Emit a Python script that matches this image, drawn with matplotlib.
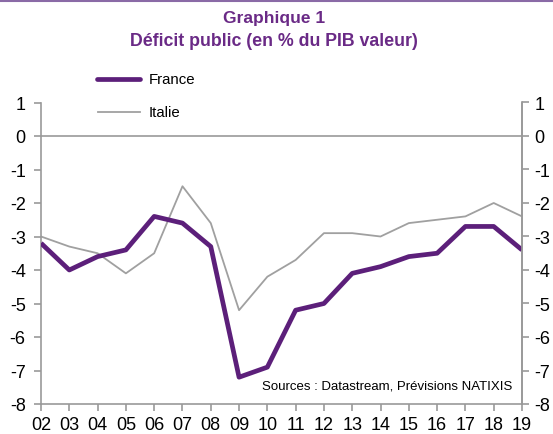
import matplotlib
matplotlib.use("Agg")
import matplotlib.pyplot as plt
from matplotlib.lines import Line2D

plt.rcParams['font.family'] = ['Liberation Sans', 'DejaVu Sans']

years = [2, 3, 4, 5, 6, 7, 8, 9, 10, 11, 12, 13, 14, 15, 16, 17, 18, 19]
year_labels = ["02", "03", "04", "05", "06", "07", "08", "09", "10",
               "11", "12", "13", "14", "15", "16", "17", "18", "19"]
france = [-3.2, -4.0, -3.6, -3.4, -2.4, -2.6, -3.3, -7.2, -6.9,
          -5.2, -5.0, -4.1, -3.9, -3.6, -3.5, -2.7, -2.7, -3.4]
italie = [-3.0, -3.3, -3.5, -4.1, -3.5, -1.5, -2.6, -5.2, -4.2,
          -3.7, -2.9, -2.9, -3.0, -2.6, -2.5, -2.4, -2.0, -2.4]
yticks = [1, 0, -1, -2, -3, -4, -5, -6, -7, -8]

purple = "#5c1f7a"
title_purple = "#6a2a86"
grey = "#999999"

fig = plt.figure(figsize=(5.53, 4.35), dpi=100)
ax = fig.add_axes([41/553, 1-405/435, (522-41)/553, (405-103.5)/435])

ax.axhline(0, color=grey, lw=1.2, zorder=1)
ax.plot(years, italie, color="#a0a0a0", lw=1.3, zorder=2)
ax.plot(years, france, color=purple, lw=3.4, zorder=3, solid_capstyle='butt')

ax.set_xlim(2, 19)
ax.set_ylim(-8, 1)
ax.set_xticks(years)
ax.set_xticklabels(year_labels)
ax.set_yticks(yticks)
ax.set_yticklabels([str(v) for v in yticks])

ax.spines['top'].set_visible(False)
for side in ['left', 'right', 'bottom']:
    ax.spines[side].set_color(grey)
    ax.spines[side].set_linewidth(1.2)

ax.tick_params(axis='x', direction='out', length=5, width=1.2, color=grey,
               labelsize=13, pad=4, labelcolor='black')
ax.tick_params(axis='y', direction='out', length=5, width=1.2, color=grey,
               labelsize=13, pad=6, labelcolor='black')

ax2 = ax.twinx()
ax2.set_ylim(-8, 1)
ax2.set_yticks(yticks)
ax2.set_yticklabels([str(v) for v in yticks])
ax2.spines['top'].set_visible(False)
ax2.spines['left'].set_visible(False)
ax2.spines['bottom'].set_visible(False)
ax2.spines['right'].set_color(grey)
ax2.spines['right'].set_linewidth(1.2)
ax2.tick_params(axis='y', direction='out', length=5, width=1.2, color=grey,
                labelsize=13, pad=4, labelcolor='black')

# Legend (manual placement)
fig.add_artist(Line2D([97/553, 140/553], [1-80/435, 1-80/435], color=purple,
                      lw=3.4, solid_capstyle='round'))
fig.add_artist(Line2D([98/553, 140/553], [1-113/435, 1-113/435], color="#a0a0a0",
                      lw=1.3))
fig.text(149/553, 1-80/435, "France", fontsize=10.8, va='center', ha='left')
fig.text(149/553, 1-113/435, "Italie", fontsize=10.8, va='center', ha='left')

fig.text(274/553, 1-18/435, "Graphique 1", fontsize=12.5, fontweight='bold',
         color=title_purple, ha='center', va='center')
fig.text(274/553, 1-42/435, "Déficit public (en % du PIB valeur)", fontsize=12.8,
         fontweight='bold', color=title_purple, ha='center', va='center')

fig.text(262/553, 1-387/435, "Sources : Datastream, Prévisions NATIXIS",
         fontsize=9.5, ha='left', va='center')

# top border line
fig.add_artist(Line2D([0, 1], [1-1.5/435, 1-1.5/435], color="#8a6aa6", lw=1.5))

fig.savefig("out.png", dpi=100)
